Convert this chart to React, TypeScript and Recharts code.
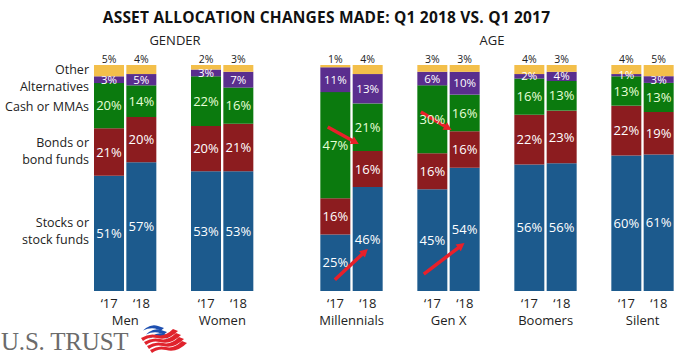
import React from "react";
import { BarChart, Bar, XAxis, YAxis, LabelList, ReferenceLine } from "recharts";

// one pair of bars per group: '17 then '18
const groups = ["Men", "Women", "Millennials", "Gen X", "Boomers", "Silent"];
const years = ["‘17", "‘18"];
const emptySlotsAfter = [1, 2, 1, 1, 1, 0];

const stocks = [51, 57, 53, 53, 25, 46, 45, 54, 56, 56, 60, 61];
const bonds = [21, 20, 20, 21, 16, 16, 16, 16, 22, 23, 22, 19];
const cash = [20, 14, 22, 16, 47, 21, 30, 16, 16, 13, 13, 13];
const alternatives = [3, 5, 3, 7, 11, 13, 6, 10, 2, 4, 1, 3];
const other = [5, 4, 2, 3, 1, 4, 3, 3, 4, 3, 4, 5];

const rowLabels = [
  { lines: ["Other", "Alternatives"], y: 70 },
  { lines: ["Cash or MMAs"], y: 107 },
  { lines: ["Bonds or", "bond funds"], y: 143 },
  { lines: ["Stocks or", "stock funds"], y: 223 },
];

// red arrows: x in slot index (0 = centre of first bar), y as share of the bar
const arrows = [
  [{ x: 6.76, y: 0.726 }, { x: 7.72, y: 0.65 }],
  [{ x: 6.98, y: 0.05 }, { x: 8.0, y: 0.186 }],
  [{ x: 9.64, y: 0.792 }, { x: 10.59, y: 0.712 }],
  [{ x: 9.73, y: 0.075 }, { x: 10.99, y: 0.212 }],
];

const colors = {
  stocks: "#1c5a8d",
  bonds: "#8c1c1f",
  cash: "#0b7a0e",
  alternatives: "#5a2e8e",
  other: "#f3bf4a",
};

const FONT = "'Open Sans', sans-serif";

type Row = {
  slot: string;
  year?: string;
  group?: string;
  stocks?: number;
  bonds?: number;
  cash?: number;
  alternatives?: number;
  other?: number;
};

const data: Row[] = [];
groups.forEach((g, gi) => {
  years.forEach((y, yi) => {
    const i = gi * 2 + yi;
    data.push({
      slot: `${g}-${yi}`,
      year: y,
      group: yi === 0 ? g : undefined,
      stocks: stocks[i],
      bonds: bonds[i],
      cash: cash[i],
      alternatives: alternatives[i],
      other: other[i],
    });
  });
  for (let k = 0; k < emptySlotsAfter[gi]; k++) data.push({ slot: `gap-${gi}-${k}` });
});

const pct = (v: any) => (v == null ? "" : `${v}%`);

function SlotTick(props: any) {
  const { x, y, payload, index } = props;
  const row = data[index] || data.find((d) => d.slot === payload.value);
  if (!row || !row.year) return null;
  const slotW = 32.33;
  return (
    <g>
      <text x={x} y={y + 9} textAnchor="middle" fontSize={13} fontFamily={FONT} fill="#222">
        {row.year}
      </text>
      {row.group && (
        <text x={x + slotW / 2} y={y + 25.5} textAnchor="middle" fontSize={13} fontFamily={FONT} fill="#222">
          {row.group}
        </text>
      )}
    </g>
  );
}

function Arrow(props: any) {
  const { x1, y1, x2, y2 } = props;
  if ([x1, y1, x2, y2].some((v) => v == null || isNaN(v))) return null;
  const a = Math.atan2(y2 - y1, x2 - x1);
  const h = 9;
  const p1 = [x2 - h * Math.cos(a - 0.5), y2 - h * Math.sin(a - 0.5)];
  const p2 = [x2 - h * Math.cos(a + 0.5), y2 - h * Math.sin(a + 0.5)];
  return (
    <g>
      <line x1={x1} y1={y1} x2={x2 - 5 * Math.cos(a)} y2={y2 - 5 * Math.sin(a)} stroke="#e8202a" strokeWidth={3.5} />
      <polygon points={`${x2},${y2} ${p1[0]},${p1[1]} ${p2[0]},${p2[1]}`} fill="#e8202a" />
    </g>
  );
}

function Flag() {
  const blue = [0, 1, 2];
  const red = [0, 1, 2, 3];
  return (
    <svg width={52} height={30} style={{ position: "absolute", left: 136, top: 323 }}>
      {blue.map((i) => (
        <path
          key={"b" + i}
          d={`M${10 + i * 3},${5 + i * 4} q6,-4 12,-2 l6,2 l-3,2.5 l-6,-2 q-6,-1 -12,2 z`}
          fill="#1d4fb0"
        />
      ))}
      {red.map((i) => (
        <path
          key={"r" + i}
          d={`M${5 + i * 3},${15 + i * 4} q8,-5 16,-3 q8,2 16,-6 l5,2 q-10,10 -21,7 q-8,-2 -14,3 z`}
          fill="#e0232c"
        />
      ))}
    </svg>
  );
}

export default function App() {
  return (
    <div style={{ position: "absolute", left: 0, top: 0, width: 680, height: 357, background: "#fff", fontFamily: FONT }}>
      <div
        style={{
          position: "absolute",
          left: 0,
          width: 653,
          top: 6,
          textAlign: "center",
          fontWeight: 700,
          fontSize: 15.5,
          color: "#111",
          letterSpacing: 0.2,
        }}
      >
        ASSET ALLOCATION CHANGES MADE: Q1 2018 VS. Q1 2017
      </div>
      <div style={{ position: "absolute", left: 135, width: 80, top: 31, textAlign: "center", fontSize: 13, color: "#222" }}>
        GENDER
      </div>
      <div style={{ position: "absolute", left: 452, width: 80, top: 31, textAlign: "center", fontSize: 13, color: "#222" }}>
        AGE
      </div>
      {rowLabels.map((r, i) => (
        <div
          key={i}
          style={{
            position: "absolute",
            right: 680 - 89,
            top: r.y - 9,
            textAlign: "right",
            fontSize: 12.5,
            lineHeight: "17px",
            color: "#222",
            whiteSpace: "nowrap",
          }}
        >
          {r.lines.map((l, j) => (
            <div key={j}>{l}</div>
          ))}
        </div>
      ))}
      <BarChart
        width={680}
        height={357}
        data={data}
        stackOffset="expand"
        margin={{ top: 65, right: 5, bottom: 26, left: 93 }}
        style={{ position: "absolute", left: 0, top: 0 }}
      >
        <XAxis
          xAxisId="cat"
          dataKey="slot"
          interval={0}
          axisLine={false}
          tickLine={false}
          height={40}
          tick={<SlotTick />}
          padding={{ left: 0, right: 0 }}
        />
        <XAxis
          xAxisId="pos"
          type="number"
          domain={[0, 17]}
          padding={{ left: 16.17, right: 16.17 }}
          allowDataOverflow
          hide
        />
        <YAxis hide domain={[0, 1]} />
        <Bar xAxisId="cat" dataKey="stocks" stackId="a" fill={colors.stocks} barSize={30} isAnimationActive={false}>
          <LabelList dataKey="stocks" position="center" formatter={pct} fill="#fff" fontSize={13} fontFamily={FONT} />
        </Bar>
        <Bar xAxisId="cat" dataKey="bonds" stackId="a" fill={colors.bonds} barSize={30} isAnimationActive={false}>
          <LabelList dataKey="bonds" position="center" formatter={pct} fill="#fff" fontSize={13} fontFamily={FONT} />
        </Bar>
        <Bar xAxisId="cat" dataKey="cash" stackId="a" fill={colors.cash} barSize={30} isAnimationActive={false}>
          <LabelList dataKey="cash" position="center" formatter={pct} fill="#e8ffd8" fontSize={13} fontFamily={FONT} />
        </Bar>
        <Bar xAxisId="cat" dataKey="alternatives" stackId="a" fill={colors.alternatives} barSize={30} isAnimationActive={false}>
          <LabelList dataKey="alternatives" position="center" formatter={pct} fill="#fff" fontSize={11.5} fontFamily={FONT} />
        </Bar>
        <Bar xAxisId="cat" dataKey="other" stackId="a" fill={colors.other} barSize={30} isAnimationActive={false}>
          <LabelList dataKey="other" position="top" offset={2} formatter={pct} fill="#222" fontSize={10.5} fontFamily={FONT} />
        </Bar>
        {arrows.map((seg, i) => (
          <ReferenceLine key={i} xAxisId="pos" segment={seg} shape={<Arrow />} ifOverflow="visible" />
        ))}
      </BarChart>
      <div
        style={{
          position: "absolute",
          left: 1,
          top: 332,
          fontFamily: "'Liberation Serif', 'DejaVu Serif', serif",
          fontSize: 25,
          lineHeight: "20px",
          color: "#6b6b6b",
          letterSpacing: -0.2,
        }}
      >
        U.S. TRUST
      </div>
      <Flag />
    </div>
  );
}
